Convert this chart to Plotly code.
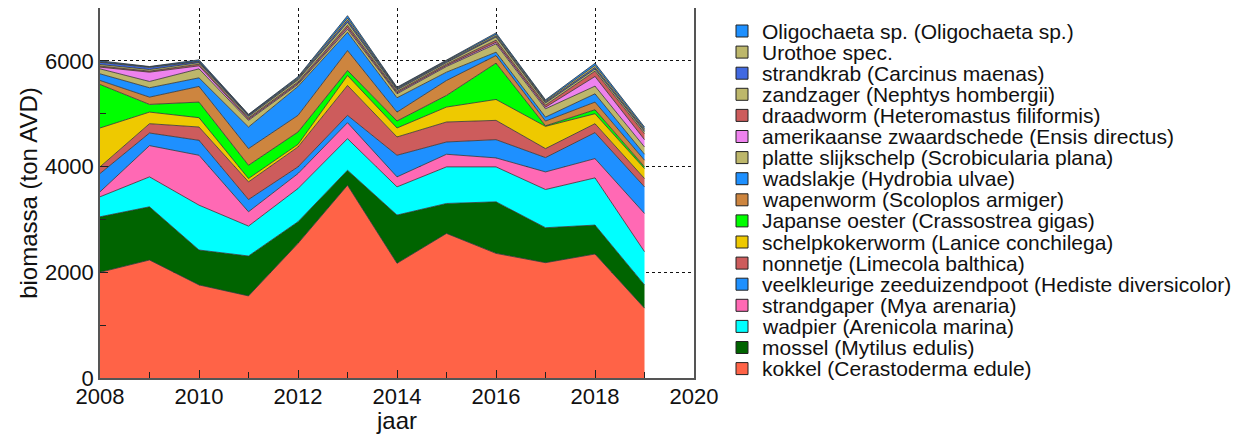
import plotly.graph_objects as go

jaren = [2008, 2009, 2010, 2011, 2012, 2013, 2014, 2015, 2016, 2017, 2018, 2019]

# soorten van onder naar boven in de stapel
soorten = [
    "kokkel (Cerastoderma edule)",
    "mossel (Mytilus edulis)",
    "wadpier (Arenicola marina)",
    "strandgaper (Mya arenaria)",
    "veelkleurige zeeduizendpoot (Hediste diversicolor)",
    "nonnetje (Limecola balthica)",
    "schelpkokerworm (Lanice conchilega)",
    "Japanse oester (Crassostrea gigas)",
    "wapenworm (Scoloplos armiger)",
    "wadslakje (Hydrobia ulvae)",
    "platte slijkschelp (Scrobicularia plana)",
    "amerikaanse zwaardschede (Ensis directus)",
    "draadworm (Heteromastus filiformis)",
    "zandzager (Nephtys hombergii)",
    "strandkrab (Carcinus maenas)",
    "Urothoe spec.",
    "Oligochaeta sp. (Oligochaeta sp.)",
]

kokkel = [2000, 2233, 1761, 1553, 2547, 3648, 2170, 2736, 2358, 2182, 2346, 1321]
mossel = [1050, 1006, 660, 755, 409, 283, 912, 566, 975, 661, 547, 440]
wadpier = [378, 566, 849, 566, 629, 597, 534, 692, 661, 723, 893, 629]
strandgaper = [94, 591, 944, 271, 283, 302, 189, 239, 170, 333, 365, 723]
veelkleurige = [346, 239, 283, 232, 126, 139, 409, 232, 345, 271, 491, 503]
nonnetje = [126, 176, 251, 334, 377, 566, 346, 378, 365, 170, 169, 158]
schelpkokerworm = [736, 220, 177, 63, 50, 188, 170, 283, 396, 421, 189, 188]
japanse_oester = [823, 145, 295, 251, 233, 95, 132, 220, 686, 10, 75, 32]
wapenworm = [76, 138, 296, 315, 315, 377, 169, 283, 145, 90, 145, 126]
wadslakje = [126, 177, 163, 408, 547, 346, 271, 157, 63, 75, 157, 113]
platte_slijkschelp = [94, 119, 170, 126, 40, 60, 75, 107, 157, 157, 145, 138]
amerikaanse_zwaardschede = [32, 176, 57, 20, 20, 30, 20, 20, 30, 30, 182, 138]
draadworm = [20, 20, 30, 25, 25, 40, 25, 25, 40, 40, 101, 114]
zandzager = [30, 30, 30, 30, 40, 60, 30, 30, 60, 40, 40, 40]
strandkrab = [40, 40, 20, 20, 20, 40, 20, 20, 20, 20, 30, 25]
urothoe = [10, 10, 10, 10, 20, 40, 15, 15, 30, 20, 40, 30]
oligochaeta = [20, 7, 23, 10, 19, 44, 14, 20, 28, 20, 40, 30]

waarden = [kokkel, mossel, wadpier, strandgaper, veelkleurige, nonnetje,
           schelpkokerworm, japanse_oester, wapenworm, wadslakje,
           platte_slijkschelp, amerikaanse_zwaardschede, draadworm,
           zandzager, strandkrab, urothoe, oligochaeta]

kleuren = ["#FF6347", "#006400", "#00FFFF", "#FF69B4", "#1E90FF", "#CD5C5C",
           "#EEC900", "#00FF00", "#CD853F", "#1E90FF", "#BDB76B", "#EE82EE",
           "#CD5C5C", "#BDB76B", "#4169E1", "#BDB76B", "#1E90FF"]

# de pagina zet de figuur 8px van de rand; daarvoor corrigeren
OFF = 8
W, H = 1242 - OFF, 434 - OFF
L, R, T, B = 100 - OFF, 694 - OFF, 0, 378 - OFF

fig = go.Figure()
for naam, y, kleur in zip(soorten, waarden, kleuren):
    fig.add_trace(go.Scatter(
        x=jaren, y=y, name=naam, mode="lines", stackgroup="een",
        fillcolor=kleur, line=dict(color="#333333", width=0.8),
        showlegend=False,
    ))

as_stijl = dict(
    showline=True, linecolor="#555555", linewidth=1.5, mirror=True,
    ticks="inside", ticklen=8, tickcolor="#222222",
    showgrid=True, gridcolor="#111111", griddash="dot", gridwidth=1,
    zeroline=False, tickfont=dict(size=22, color="#111111"),
    title_font=dict(size=24, color="#111111"), automargin=False,
)

fig.update_xaxes(range=[2008, 2020], dtick=2, title_text="jaar", title_standoff=0,
                 ticklabelstandoff=-2,
                 minor=dict(dtick=1, ticks="inside", ticklen=6, tickcolor="#222222", showgrid=False),
                 **as_stijl)
fig.update_yaxes(range=[0, 7000], dtick=2000, title_text="biomassa (ton AVD)", title_standoff=0,
                 minor=dict(dtick=1000, ticks="inside", ticklen=6, tickcolor="#222222", showgrid=False),
                 **as_stijl)

# eigen legenda: bovenste laag bovenaan, compacte regelafstand
px_x = lambda p: (p - OFF - L) / (R - L)
px_y = lambda p: (B - (p - OFF)) / (B - T)
annotaties = []
vormen = []
for i, (naam, kleur) in enumerate(zip(reversed(soorten), reversed(kleuren))):
    yc = 31 + 21.1 * i
    annotaties.append(dict(
        xref="paper", yref="paper", x=px_x(760), y=px_y(yc),
        xanchor="left", yanchor="middle", text=naam, showarrow=False,
        font=dict(size=21, color="#111111"),
    ))
    vormen.append(dict(
        type="rect", xref="paper", yref="paper",
        x0=px_x(736), x1=px_x(748), y0=px_y(yc + 6), y1=px_y(yc - 6),
        fillcolor=kleur, line=dict(color="#222222", width=1),
    ))

fig.update_layout(
    width=W, height=H,
    margin=dict(l=L, r=W - R, t=T, b=H - B),
    plot_bgcolor="white", paper_bgcolor="white",
    font=dict(family="Liberation Sans, Arial, sans-serif", color="#111111"),
    showlegend=False,
    annotations=annotaties,
    shapes=vormen,
)

fig.write_html("out.html")
